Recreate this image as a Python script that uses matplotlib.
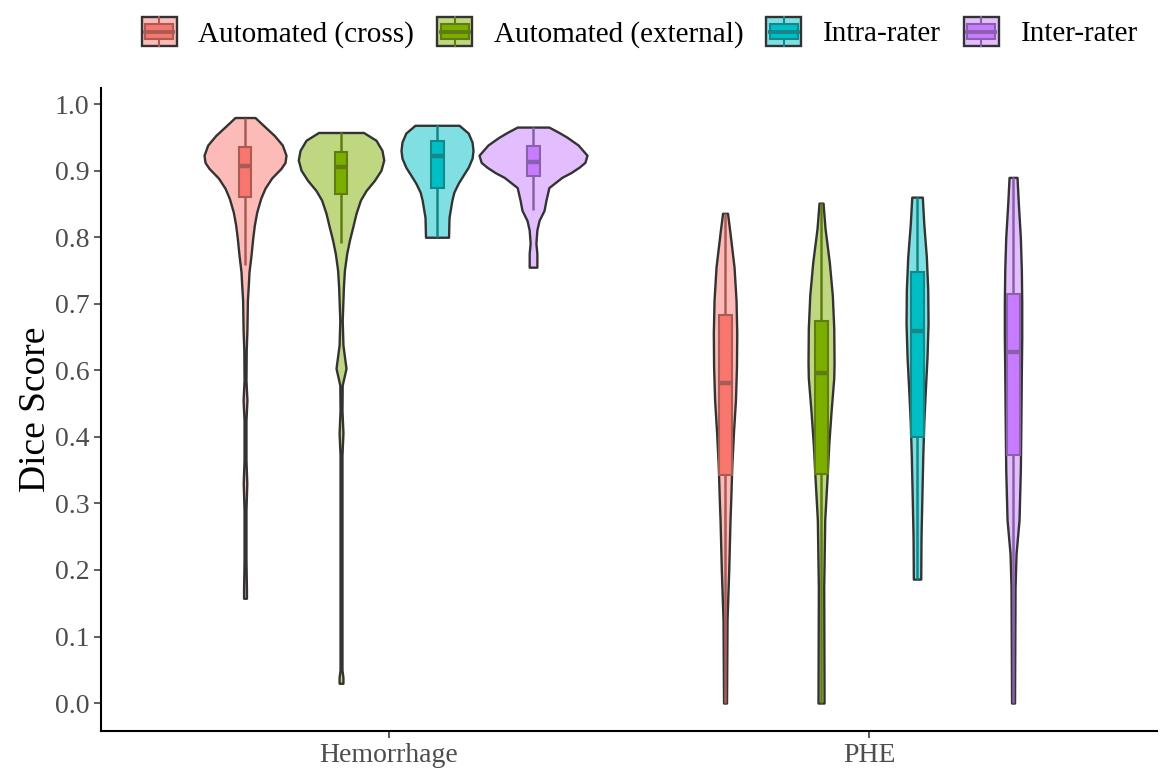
import numpy as np
import matplotlib
matplotlib.use("Agg")
import matplotlib.pyplot as plt
from matplotlib.patches import Patch, Rectangle
from matplotlib.lines import Line2D
from matplotlib.legend_handler import HandlerBase
from matplotlib.colors import to_rgb

plt.rcParams["font.family"] = "serif"
plt.rcParams["font.serif"] = ["Liberation Serif", "DejaVu Serif"]

groups = ["Hemorrhage", "PHE"]
series = ["Automated (cross)", "Automated (external)", "Intra-rater", "Inter-rater"]
colors = ["#F8766D", "#7CAE00", "#00BFC4", "#C77CFF"]

# y-axis tick positions and the labels printed on them
ytick_pos = np.linspace(0, 1, 10)
ytick_labels = ["0.0", "0.1", "0.2", "0.3", "0.4", "0.6", "0.7", "0.8", "0.9", "1.0"]

# violin outlines: (score, half width) pairs, top to bottom
hem_cross = [(0.978, 0.0208), (0.965, 0.0381), (0.948, 0.0610), (0.932, 0.0777),
             (0.915, 0.0854), (0.903, 0.0833), (0.893, 0.0750), (0.877, 0.0556),
             (0.860, 0.0417), (0.843, 0.0327), (0.820, 0.0244), (0.798, 0.0194),
             (0.776, 0.0160), (0.748, 0.0125), (0.720, 0.0083), (0.698, 0.0069),
             (0.673, 0.005), (0.623, 0.004), (0.589, 0.0025), (0.539, 0.002),
             (0.506, 0.004), (0.472, 0.002), (0.406, 0.002), (0.367, 0.0037),
             (0.322, 0.002), (0.239, 0.002), (0.189, 0.003), (0.175, 0.003)]
hem_external = [(0.953, 0.0469), (0.940, 0.0729), (0.923, 0.0854), (0.907, 0.0890),
                (0.890, 0.0833), (0.873, 0.0696), (0.856, 0.0521), (0.840, 0.0404),
                (0.818, 0.0313), (0.795, 0.0244), (0.773, 0.0175), (0.751, 0.0119),
                (0.723, 0.0071), (0.695, 0.0050), (0.639, 0.0025), (0.598, 0.004),
                (0.559, 0.0104), (0.531, 0.0025), (0.489, 0.002), (0.451, 0.004),
                (0.414, 0.002), (0.306, 0.002), (0.172, 0.002), (0.055, 0.002),
                (0.043, 0.004), (0.033, 0.004)]
hem_intra = [(0.965, 0.046), (0.952, 0.065), (0.937, 0.073), (0.923, 0.075), (0.910, 0.073),
             (0.895, 0.065), (0.881, 0.054), (0.868, 0.044), (0.853, 0.035), (0.840, 0.031),
             (0.811, 0.025), (0.778, 0.024)]
hem_inter = [(0.962, 0.033), (0.953, 0.054), (0.945, 0.071), (0.932, 0.094), (0.915, 0.1125),
             (0.903, 0.108), (0.895, 0.096), (0.886, 0.079), (0.878, 0.060), (0.861, 0.033),
             (0.840, 0.027), (0.823, 0.023), (0.806, 0.0125), (0.790, 0.008), (0.768, 0.006),
             (0.751, 0.008), (0.728, 0.008)]
phe_cross = [(0.818, 0.0052), (0.785, 0.0104), (0.728, 0.0188), (0.673, 0.0229),
             (0.618, 0.0244), (0.561, 0.0238), (0.506, 0.0217), (0.451, 0.0175),
             (0.394, 0.0140), (0.339, 0.0119), (0.306, 0.0104), (0.222, 0.0077),
             (0.139, 0.0042), (0.0, 0.0031)]
phe_external = [(0.835, 0.0042), (0.793, 0.0083), (0.736, 0.0173), (0.681, 0.0235),
                (0.626, 0.0265), (0.569, 0.0271), (0.543, 0.0265), (0.486, 0.0208),
                (0.431, 0.0160), (0.376, 0.0125), (0.306, 0.0077), (0.194, 0.0056),
                (0.0, 0.0063)]
phe_intra = [(0.845, 0.0110), (0.801, 0.0140), (0.745, 0.0194), (0.690, 0.0223),
             (0.634, 0.0229), (0.578, 0.0208), (0.523, 0.0173), (0.467, 0.0140),
             (0.411, 0.0119), (0.356, 0.0104), (0.277, 0.0083), (0.207, 0.0077)]
phe_inter = [(0.878, 0.0083), (0.835, 0.0110), (0.778, 0.0152), (0.723, 0.0173),
             (0.668, 0.0181), (0.611, 0.0181), (0.556, 0.0173), (0.501, 0.0167),
             (0.444, 0.0160), (0.389, 0.0152), (0.306, 0.0125), (0.250, 0.0063),
             (0.194, 0.0042), (0.0, 0.0031)]

# box stats: (lower whisker, q1, median, q3, upper whisker)
hem_boxes = [(0.732, 0.846, 0.897, 0.928, 0.978),
             (0.768, 0.851, 0.895, 0.920, 0.953),
             (0.778, 0.860, 0.913, 0.938, 0.965),
             (0.823, 0.881, 0.903, 0.930, 0.962)]
phe_boxes = [(0.0, 0.381, 0.534, 0.648, 0.818),
             (0.0, 0.382, 0.551, 0.638, 0.835),
             (0.207, 0.444, 0.621, 0.720, 0.845),
             (0.0, 0.414, 0.586, 0.683, 0.878)]

violins = [[hem_cross, hem_external, hem_intra, hem_inter],
           [phe_cross, phe_external, phe_intra, phe_inter]]
boxes = [hem_boxes, phe_boxes]

OUTLINE = "#333333"


def lighten(c, a=0.5):
    r = np.array(to_rgb(c))
    return tuple(r * a + (1 - a))


def darken(c, a=0.6):
    r = np.array(to_rgb(c))
    return tuple(r * a + np.array(to_rgb(OUTLINE)) * (1 - a))


fig, ax = plt.subplots(figsize=(11.61, 7.75), dpi=100)
fig.subplots_adjust(left=0.087, right=0.9966, bottom=0.0568, top=0.886)

dodge = [-0.3, -0.1, 0.1, 0.3]
box_half = 0.0135
for gi in range(len(groups)):
    for si in range(len(series)):
        c = gi + 1 + dodge[si]
        prof = np.array(violins[gi][si])
        ys, hw = prof[:, 0], prof[:, 1]
        ax.fill_betweenx(ys, c - hw, c + hw, facecolor=lighten(colors[si]),
                         edgecolor=OUTLINE, linewidth=1.7, zorder=2)
        lo, q1, med, q3, hi = boxes[gi][si]
        ec = darken(colors[si])
        ax.plot([c, c], [lo, q1], color=ec, lw=1.8, zorder=3, solid_capstyle="butt")
        ax.plot([c, c], [q3, hi], color=ec, lw=1.8, zorder=3, solid_capstyle="butt")
        ax.add_patch(Rectangle((c - box_half, q1), 2 * box_half, q3 - q1,
                               facecolor=colors[si], edgecolor=ec, linewidth=1.5, zorder=4))
        ax.plot([c - box_half, c + box_half], [med, med], color=ec, lw=3.2,
                zorder=5, solid_capstyle="butt")

ax.set_xlim(0.4, 2.6)
ax.set_ylim(-0.0467, 1.0267)
ax.set_xticks([1, 2])
ax.set_xticklabels(groups)
ax.set_yticks(ytick_pos)
ax.set_yticklabels(ytick_labels)
ax.tick_params(axis="both", labelsize=20, labelcolor="#4D4D4D", color="#333333",
               length=5, width=1.1)
ax.set_ylabel("Dice Score", fontsize=27, labelpad=1)

for side in ["top", "right"]:
    ax.spines[side].set_visible(False)
for side in ["left", "bottom"]:
    ax.spines[side].set_linewidth(1.5)
    ax.spines[side].set_color("black")


class ViolinBoxKey(HandlerBase):
    def create_artists(self, legend, orig_handle, xdescent, ydescent,
                       width, height, fontsize, trans):
        col = orig_handle.get_facecolor()
        ec = darken(col)
        x0, y0 = -xdescent, -ydescent
        outer = Rectangle((x0, y0), width, height, facecolor=lighten(col),
                          edgecolor=OUTLINE, linewidth=1.7, transform=trans)
        inner = Rectangle((x0 + 0.1 * width, y0 + 0.24 * height), 0.8 * width,
                          0.52 * height, facecolor=col, edgecolor=ec, linewidth=1.5,
                          transform=trans)
        cx = x0 + width / 2
        w1 = Line2D([cx, cx], [y0, y0 + 0.24 * height], color=ec, lw=1.5, transform=trans)
        w2 = Line2D([cx, cx], [y0 + 0.76 * height, y0 + height], color=ec, lw=1.5,
                    transform=trans)
        med = Line2D([x0 + 0.1 * width, x0 + 0.9 * width],
                     [y0 + 0.5 * height] * 2, color=ec, lw=2.8, transform=trans)
        return [outer, w1, w2, inner, med]


handles = [Patch(facecolor=c) for c in colors]
fig.legend(handles, series, handler_map={Patch: ViolinBoxKey()}, loc="center",
           bbox_to_anchor=(0.551, 0.958), ncol=4, frameon=False, fontsize=21,
           handlelength=1.2, handleheight=1.12, handletextpad=0.75,
           columnspacing=0.78, borderpad=0)

fig.savefig("out.png", dpi=100)
